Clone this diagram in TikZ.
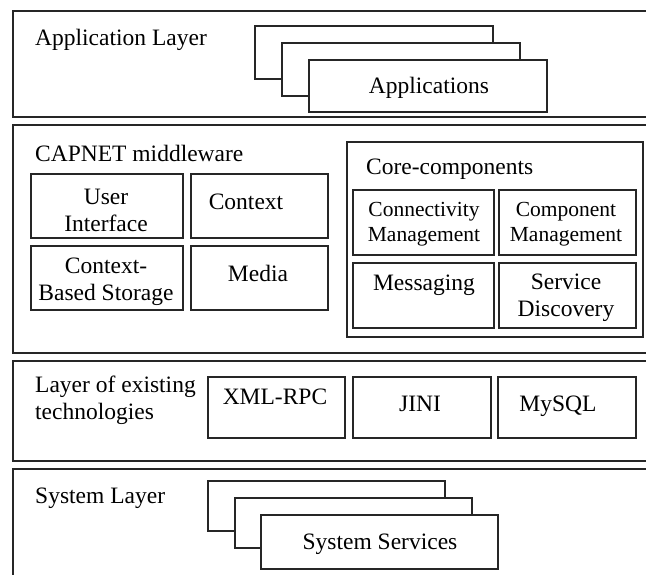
\documentclass[tikz,border=0pt]{standalone}
\usepackage{fontspec}
\setmainfont{Liberation Serif}
\begin{document}
\begin{tikzpicture}[x=1pt,y=-1pt,
  box/.style={draw=black!85, line width=1.6pt, fill=white, inner sep=0pt, anchor=north west},
  lbl/.style={font=\fontsize{23.5}{27}\selectfont, inner sep=0pt, align=center},
  slbl/.style={font=\fontsize{21.5}{25.5}\selectfont, inner sep=0pt, align=center},
  title/.style={font=\fontsize{23.5}{27}\selectfont, inner sep=0pt, align=left, anchor=west}]
\useasboundingbox (0,0) rectangle (646,574);
\fill[white] (0,0) rectangle (646,574);
% layers
\node[box, minimum width=660pt, minimum height=106pt] (appl) at (12,10) {};
\node[box, minimum width=660pt, minimum height=228pt] (midl) at (12,124) {};
\node[box, minimum width=660pt, minimum height=100pt] (techl) at (12,360) {};
\node[box, minimum width=660pt, minimum height=120pt] (sysl) at (12,468) {};
% application layer
\node[title] (applt) at (35,40) {Application Layer};
\node[box, minimum width=238pt, minimum height=53pt] (app1) at (254,25) {};
\node[box, minimum width=238pt, minimum height=53pt] (app2) at (281,42) {};
\node[box, minimum width=238pt, minimum height=52pt] (app3) at (308,59) {};
\node[lbl] (appt) at (429,88) {Applications};
% middleware
\node[title] (midt) at (35,153) {CAPNET middleware};
\node[box, minimum width=152pt, minimum height=64pt] (ui) at (30,173) {};
\node[box, minimum width=137pt, minimum height=64pt] (ctx) at (190,173) {};
\node[box, minimum width=152pt, minimum height=64pt] (cbs) at (30,245) {};
\node[box, minimum width=137pt, minimum height=64pt] (med) at (190,245) {};
\node[lbl] (uit) at (106,210) {User\\Interface};
\node[lbl] (ctxt) at (246,202) {Context};
\node[lbl] (cbst) at (106,282) {Context-\\Based Storage};
\node[lbl] (medt) at (258,273) {Media};
% core components
\node[box, minimum width=296pt, minimum height=195pt] (core) at (346,141) {};
\node[title] (coret) at (366,169) {Core-components};
\node[box, minimum width=141pt, minimum height=65pt] (conn) at (352,189) {};
\node[box, minimum width=137pt, minimum height=65pt] (comp) at (498,189) {};
\node[box, minimum width=141pt, minimum height=65pt] (msg) at (352,262) {};
\node[box, minimum width=137pt, minimum height=65pt] (sd) at (498,262) {};
\node[slbl] (connt) at (424,224) {Connectivity\\Management};
\node[slbl] (compt) at (566,224) {Component\\Management};
\node[lbl] (msgt) at (424,285) {Messaging};
\node[lbl] (sdt) at (566,298) {Service\\Discovery};
% technologies
\node[title] (techt) at (35,400.5) {Layer of existing\\technologies};
\node[box, minimum width=137pt, minimum height=61pt] (xml) at (207,376) {};
\node[box, minimum width=138pt, minimum height=61pt] (jini) at (352,376) {};
\node[box, minimum width=138pt, minimum height=61pt] (mysql) at (497,376) {};
\node[lbl] (xmlt) at (275,397) {XML-RPC};
\node[lbl] (jinit) at (420,404) {JINI};
\node[lbl] (mysqlt) at (558,406) {MySQL};
% system layer
\node[title] (syst) at (35,498) {System Layer};
\node[box, minimum width=237pt, minimum height=50pt] (ss1) at (207,480) {};
\node[box, minimum width=237pt, minimum height=50pt] (ss2) at (234,497) {};
\node[box, minimum width=237pt, minimum height=54pt] (ss3) at (260,514) {};
\node[lbl] (sst) at (380,544) {System Services};
\end{tikzpicture}
\end{document}
